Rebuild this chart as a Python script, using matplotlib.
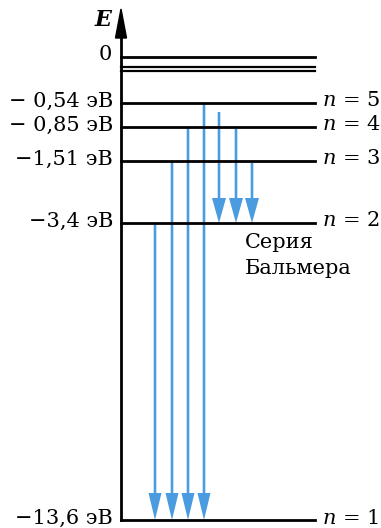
import matplotlib
matplotlib.use("Agg")
import matplotlib.pyplot as plt

plt.rcParams['font.family'] = ['DejaVu Serif']
plt.rcParams['mathtext.fontset'] = 'dejavuserif'

# energy levels of hydrogen (schematic, not to scale)
level_n = [1, 2, 3, 4, 5]
level_labels = ['\u221213,6 эВ', '\u22123,4 эВ', '\u22121,51 эВ', '\u2212 0,85 эВ', '\u2212 0,54 эВ']
level_pos = [520, 223, 161, 127, 103]       # vertical layout position of each level
zero_pos = 57
continuum_pos = [67, 71]

# transitions (upper n -> lower n)
lyman_from = [2, 3, 4, 5]
balmer_from = [5, 4, 3]
balmer_start = [112, 129, 163]

blue = '#4b9be0'
x_axis, x_end = 121, 315
fs = 15

fig = plt.figure(figsize=(3.81, 5.28), dpi=100)
ax = fig.add_axes([0, 0, 1, 1])
ax.set_xlim(0, 381)
ax.set_ylim(528, 0)
ax.axis('off')

# vertical axis with arrow
ax.plot([x_axis, x_axis], [level_pos[0], 36], color='black', lw=2)
ax.fill([x_axis - 5.5, x_axis + 5.5, x_axis], [38, 38, 9], color='black')
ax.text(112, 20, 'E', fontsize=fs + 1, style='italic', weight='bold', ha='right', va='center')

# zero and continuum lines
ax.plot([x_axis, x_end], [zero_pos, zero_pos], color='black', lw=2)
ax.text(112, zero_pos - 3, '0', fontsize=fs, ha='right', va='center')
for y in continuum_pos:
    ax.plot([x_axis, x_end], [y, y], color='black', lw=1.6)

# levels
for n, lab, y in zip(level_n, level_labels, level_pos):
    ax.plot([x_axis, x_end], [y, y], color='black', lw=2)
    ax.text(113, y - 2, lab, fontsize=fs, ha='right', va='center')
    ax.text(322, y - 2, r'$n$ = %d' % n, fontsize=fs, ha='left', va='center')

# Lyman series
lyman_x = [155, 172, 188, 204]
for x, n in zip(lyman_x, lyman_from):
    y0 = level_pos[level_n.index(n)]
    ax.arrow(x, y0, 0, level_pos[0] - y0, width=2.6, head_width=13, head_length=27,
             length_includes_head=True, color=blue, lw=0)

# Balmer series
balmer_x = [219, 236, 252]
for x, y0 in zip(balmer_x, balmer_start):
    ax.arrow(x, y0, 0, level_pos[1] - y0, width=2.6, head_width=14, head_length=25,
             length_includes_head=True, color=blue, lw=0)

ax.text(245, 243, 'Серия', fontsize=fs, ha='left', va='center')
ax.text(245, 269, 'Бальмера', fontsize=fs, ha='left', va='center')

fig.savefig('out.png', dpi=100)
